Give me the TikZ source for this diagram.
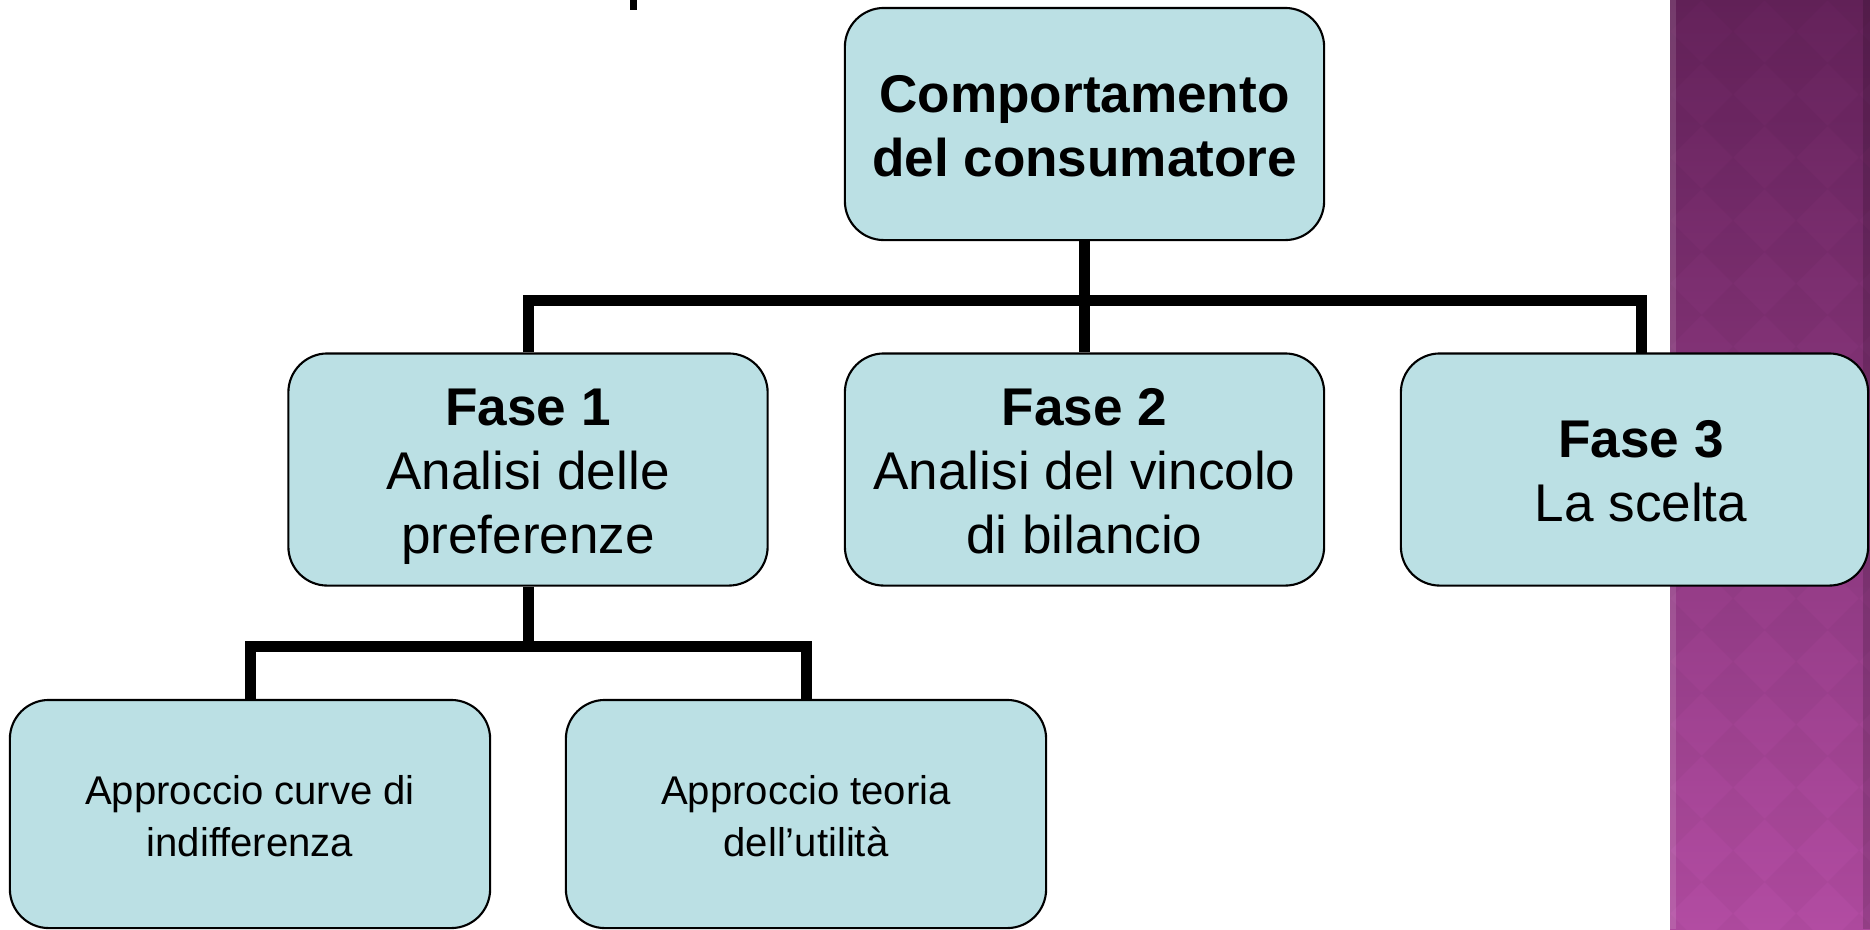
\documentclass[tikz,border=0pt]{standalone}
\usepackage{fontspec}
\setmainfont{Liberation Sans}
\definecolor{boxfill}{RGB}{187,224,228}
\definecolor{bandtop}{RGB}{100,34,90}
\definecolor{bandbot}{RGB}{178,76,162}
\newcommand{\strutB}{\rule[-0.12cm]{0pt}{0.64cm}}
\newcommand{\strutS}{\rule[-0.08cm]{0pt}{0.49cm}}
\begin{document}
\begin{tikzpicture}[x=0.01cm,y=-0.01cm,
  box/.style={draw=black, line width=0.6pt, fill=boxfill, rounded corners=0.39cm,
    align=center, inner sep=0pt, minimum height=2.32cm, minimum width=4.79cm},
  big/.style={font=\fontsize{15.1}{18.21}\selectfont},
  small/.style={font=\fontsize{11.4}{13.94}\selectfont},
  conn/.style={line width=0.11cm, line join=miter}]
\useasboundingbox (0,0) rectangle (1870,929);
% purple band
\shade[top color=bandtop, bottom color=bandbot] (1670,0) rectangle (1870,929);
\begin{scope}
  \clip (1670,0) rectangle (1870,929);
  \foreach \m in {0,...,4} \foreach \n in {0,...,15} {
    \fill[black, opacity=0.028] (1670+63*\m-31.5, 63*\n) -- ++(31.5,-31.5) -- ++(31.5,31.5) -- ++(-31.5,31.5) -- cycle;
  }
\end{scope}
\fill[white, opacity=0.12] (1670,0) rectangle (1676,929);
\fill[black, opacity=0.15] (1863,0) rectangle (1870,929);
% title fragment
\fill[black] (630,0) rectangle (637,10);
% nodes
\node[box, big] (top) at (1084.5,124) {\strutB\textbf{Comportamento}\\\strutB\textbf{del consumatore}};
\node[box, big] (f1) at (528,469.5) {\strutB\textbf{Fase 1}\\\strutB Analisi delle\\\strutB preferenze};
\node[box, big] (f2) at (1084.5,469.5) {\strutB\textbf{Fase 2}\\\strutB Analisi del vincolo\\\strutB di bilancio};
\node[box, big, minimum width=4.67cm] (f3) at (1634.5,469.5) {\hspace*{0.13cm}\strutB\textbf{Fase 3}\\\hspace*{0.13cm}\strutB La scelta};
\node[box, small, minimum height=2.28cm, minimum width=4.8cm] (b1) at (250,814) {\strutS Approccio curve di\\\strutS indifferenza};
\node[box, small, minimum height=2.28cm, minimum width=4.8cm] (b2) at (806,814) {\strutS Approccio teoria\\\strutS dell’utilità};
% connectors
\coordinate (bus1) at (1084.5,300);
\coordinate (f3top) at (1641,353);
\coordinate (bus2) at (528,646);
\draw[conn] (top.south) -- (f2.north);
\draw[conn] (f1.north) |- (bus1) -| (f3top);
\draw[conn] (f1.south) -- (bus2);
\draw[conn] (b1.north) |- (bus2) -| (b2.north);
\end{tikzpicture}
\end{document}
